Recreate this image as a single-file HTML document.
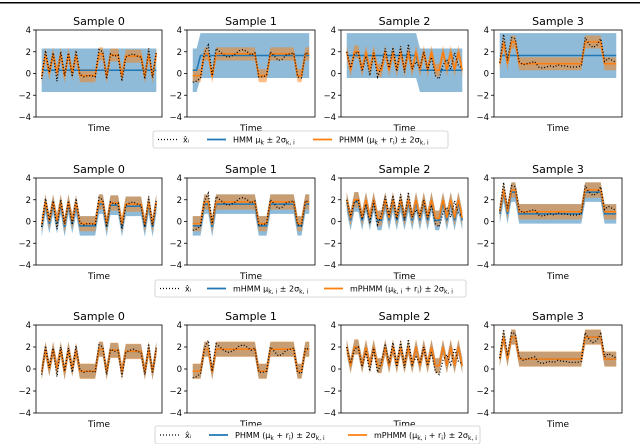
<!DOCTYPE html>
<html><head><meta charset="utf-8">
<style>
html,body{margin:0;padding:0;background:#fff;}
svg{display:block;font-family:"DejaVu Sans","Liberation Sans",sans-serif;}
</style></head>
<body>
<svg id="fig" width="640" height="444" viewBox="0 0 640 444">
<rect x="0" y="2" width="640" height="1.5" fill="#000"/>
</svg>
<script>
// ---- data ----
const sampleNames = ["Sample 0","Sample 1","Sample 2","Sample 3"];
const level0 = [-0.3,1.8,0,1.8,0,1.8,-0.3,1.8,0,1.7,-0.2,-0.2,-0.2,-0.2,-0.2,1.8,1.8,-0.3,1.7,1.7,1.7,-0.3,1.6,1.6,1.6,1.6,1.6,-0.3,1.8,-0.3,1.8];
const xhat0  = [-0.5,2.1,0.1,1.9,-0.7,2.0,-0.2,1.9,-0.3,2.1,-0.1,-0.3,-0.2,-0.2,-0.3,2.2,2.0,-0.5,1.8,1.6,1.7,-0.7,1.5,1.7,1.8,1.6,1.5,-0.5,2.3,-0.4,2.0];
const hmm0   = [0,0,0,0,0,0,0,0,0,0,0,0,0,0,0,0,0,0,0,0,0,0,0,0,0,0,0,0,0,0,0];
const level1 = [-0.2,-0.2,-0.2,1.8,1.8,-0.3,1.8,1.8,1.8,1.8,1.8,1.8,1.8,1.8,1.8,1.8,1.8,-0.2,-0.2,-0.2,1.8,1.8,1.8,1.8,1.8,1.8,1.8,-0.2,-0.2,1.8,1.8];
const xhat1  = [-0.8,-0.7,-0.4,1.9,2.6,-0.2,2.3,2.0,1.7,1.5,1.6,1.8,2.1,2.2,2.0,1.7,1.9,-0.3,-0.3,-0.2,2.0,1.6,1.2,1.3,1.7,1.8,1.9,-0.3,-0.4,1.9,1.8];
const hmm1   = [0,0,1,1,1,1,1,1,1,1,1,1,1,1,1,1,1,1,1,1,1,1,1,1,1,1,1,1,1,1,1];
const level2 = [2.0,0.3,2.0,2.0,0.3,2.0,0.3,2.0,0.3,0.3,2.0,0.3,2.0,0.3,2.0,0.3,2.0,0.3,2.0,0.3,2.0,0.3,2.0,0.3,0.3,2.0,0.3,2.0,0.3,2.0,0.3];
const xhat2  = [2.0,0.5,1.8,2.0,0.2,1.6,-0.2,1.9,-0.3,0.6,2.3,0.5,2.4,0.2,2.5,0.1,2.7,0.4,1.1,0.5,2.0,0.3,1.5,-0.2,-0.5,0.8,1.3,0.4,1.9,0.7,0.5];
const hmm2   = [1,1,1,1,1,1,1,1,1,1,1,1,1,1,1,1,1,1,1,0,0,0,0,0,0,0,0,0,0,0,0];
const level3 = [0.9,2.9,0.9,2.9,2.9,0.9,0.9,0.9,0.9,0.9,0.9,0.9,0.9,0.9,0.9,0.9,0.9,0.9,0.9,0.9,0.9,0.9,2.9,2.9,2.9,2.9,2.9,0.9,0.9,0.9,0.9];
const xhat3  = [1.0,3.6,1.2,3.3,3.2,1.1,0.8,0.9,1.0,1.1,0.6,0.5,0.6,0.7,0.6,0.8,0.7,0.7,0.6,0.6,0.6,0.7,3.3,2.7,2.4,2.6,3.2,1.1,1.4,1.2,1.0];
const hmm3   = [1,1,1,1,1,1,1,1,1,1,1,1,1,1,1,1,1,1,1,1,1,1,1,1,1,1,1,1,1,1,1];
const hmmMu = [0.3,1.65];
const hmmSd = [1.0,1.03];
const row1OrangeSd = 0.3;
const row2BlueOffset = -0.2, row2BlueSd = 0.45, row2OrangeSd = 0.35;
const row3BlueSd = 0.33, row3OrangeSd = 0.35;
const yTicks = [4,2,0,-2,-4];
const legendLabels = [
 ["x̂ᵢ","HMM μ<tspan font-size='6' dy='2'>k</tspan><tspan dy='-2'> ± 2σ</tspan><tspan font-size='6' dy='2'>k, i</tspan>","PHMM (μ<tspan font-size='6' dy='2'>k</tspan><tspan dy='-2'> + r</tspan><tspan font-size='6' dy='2'>i</tspan><tspan dy='-2'>) ± 2σ</tspan><tspan font-size='6' dy='2'>k, i</tspan>"],
 ["x̂ᵢ","mHMM μ<tspan font-size='6' dy='2'>k, i</tspan><tspan dy='-2'> ± 2σ</tspan><tspan font-size='6' dy='2'>k, i</tspan>","mPHMM (μ<tspan font-size='6' dy='2'>k, i</tspan><tspan dy='-2'> + r</tspan><tspan font-size='6' dy='2'>i</tspan><tspan dy='-2'>) ± 2σ</tspan><tspan font-size='6' dy='2'>k, i</tspan>"],
 ["x̂ᵢ","PHMM (μ<tspan font-size='6' dy='2'>k</tspan><tspan dy='-2'> + r</tspan><tspan font-size='6' dy='2'>i</tspan><tspan dy='-2'>) ± 2σ</tspan><tspan font-size='6' dy='2'>k, i</tspan>","mPHMM (μ<tspan font-size='6' dy='2'>k, i</tspan><tspan dy='-2'> + r</tspan><tspan font-size='6' dy='2'>i</tspan><tspan dy='-2'>) ± 2σ</tspan><tspan font-size='6' dy='2'>k, i</tspan>"]
];

// ---- layout ----
const levels=[level0,level1,level2,level3], xhats=[xhat0,xhat1,xhat2,xhat3], hmms=[hmm0,hmm1,hmm2,hmm3];
const cols=[[36,162],[187,315],[341,468],[494,622]];
const rows=[[30,117],[178,265],[325,413]];
const legendBoxes=[[153,131,295,17],[155,280,311,17],[155,426,325,18]];
const swatchX=[[158,207,313],[160,207,324],[160,209,348]];
const svg=document.getElementById('fig');
const NS='http://www.w3.org/2000/svg';
function mk(tag,attrs,parent){const e=document.createElementNS(NS,tag);for(const k in attrs)e.setAttribute(k,attrs[k]);(parent||svg).appendChild(e);return e;}
const BLUE='#1f77b4', ORANGE='#ff7f0e';

function bandPath(xs,ys,lo,hi){let d='M'+xs.map((x,i)=>x+','+ys(hi[i])).join('L');
 for(let i=xs.length-1;i>=0;i--)d+='L'+xs[i]+','+ys(lo[i]);return d+'Z';}
function linePath(xs,ys,v){return 'M'+xs.map((x,i)=>x+','+ys(v[i])).join('L');}

for(let r=0;r<3;r++){
 for(let c=0;c<4;c++){
  const [x0,x1]=cols[c],[y0,y1]=rows[r];
  const lv=levels[c], xh=xhats[c], hs=hmms[c], n=lv.length;
  const w=x1-x0, pad=w*0.045;
  const xs=lv.map((_,i)=>x0+pad+(w-2*pad)*i/(n-1));
  const ys=v=>y0+(4-v)/8*(y1-y0);
  const g=mk('g',{});
  
  
  let bMu,bSd,oMu,oSd;
  if(r===0){bMu=hs.map(s=>hmmMu[s]);bSd=hs.map(s=>hmmSd[s]);oMu=lv;oSd=lv.map(()=>row1OrangeSd);}
  else if(r===1){bMu=lv.map(v=>v+row2BlueOffset);bSd=lv.map(()=>row2BlueSd);oMu=lv;oSd=lv.map(()=>row2OrangeSd);}
  else {bMu=lv;bSd=lv.map(()=>row3BlueSd);oMu=lv;oSd=lv.map(()=>row3OrangeSd);}
  const bb=mk('path',{d:bandPath(xs,ys,bMu.map((m,i)=>m-2*bSd[i]),bMu.map((m,i)=>m+2*bSd[i])),fill:BLUE,'fill-opacity':0.5},g);
  
  const ob=mk('path',{d:bandPath(xs,ys,oMu.map((m,i)=>m-2*oSd[i]),oMu.map((m,i)=>m+2*oSd[i])),fill:ORANGE,'fill-opacity':0.5},g);
  
  const bl=mk('path',{d:linePath(xs,ys,bMu),fill:'none',stroke:BLUE,'stroke-width':1.5},g);
  
  const ol=mk('path',{d:linePath(xs,ys,oMu),fill:'none',stroke:ORANGE,'stroke-width':1.5},g);
  
  const xl=mk('path',{d:linePath(xs,ys,xh),fill:'none',stroke:'#000','stroke-width':1.3,'stroke-dasharray':'1,2'},g);
  
  const fr=mk('rect',{x:x0,y:y0,width:w,height:y1-y0,fill:'none',stroke:'#000','stroke-width':0.8},g);
  
  yTicks.forEach(t=>{
   const tk=mk('line',{x1:x0-3,x2:x0,y1:ys(t),y2:ys(t),stroke:'#000','stroke-width':0.8},g);
   
   const tl=mk('text',{x:x0-5,y:ys(t)+3,'font-size':8.5,'text-anchor':'end'},g);
   tl.textContent=(t<0?'\u2212'+(-t):t);
   
  });
  const tt=mk('text',{x:(x0+x1)/2,y:y0-5,'font-size':11,'text-anchor':'middle'},g);
  tt.textContent=sampleNames[c];
  
  const xt=mk('text',{x:(x0+x1)/2,y:y1+14,'font-size':9,'text-anchor':'middle'},g);
  xt.textContent='Time';
  
 }
 // legend
 const [lx,ly,lw,lh]=legendBoxes[r];
 const lg=mk('g',{});
 
 
 mk('rect',{x:lx,y:ly,width:lw,height:lh,fill:'#fff',stroke:'#ccc','stroke-width':0.8,rx:2},lg);
 const cy=ly+lh/2;
 const cols2=['#000',BLUE,ORANGE];
 legendLabels[r].forEach((lab,i)=>{
  const sx=swatchX[r][i];
  const ln=mk('line',{x1:sx,x2:sx+19,y1:cy,y2:cy,stroke:cols2[i],'stroke-width':i?1.8:1.3,'stroke-dasharray':i?'':'1,2'},lg);
  
  const tx=mk('text',{x:sx+(i?26:25),y:cy+3,'font-size':8},lg);
  tx.innerHTML=lab;
  
 });
}
</script>
</body></html>
